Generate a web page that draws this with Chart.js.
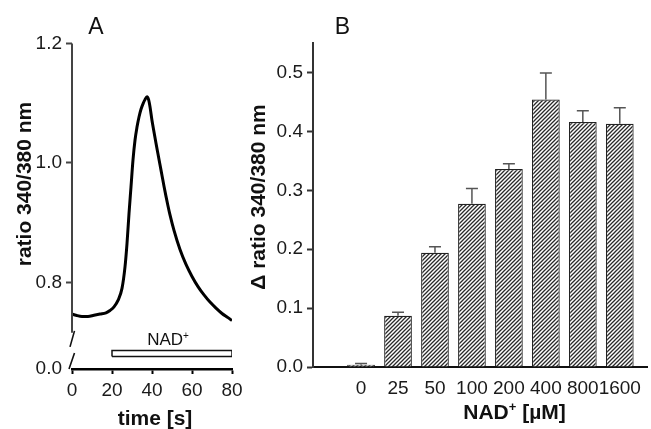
<!DOCTYPE html>
<html>
<head>
<meta charset="utf-8">
<script src="https://cdn.jsdelivr.net/npm/chart.js@4.4.1/dist/chart.umd.min.js"></script>
<style>
  html, body { margin: 0; padding: 0; background: #fff; }
  #wrap { position: relative; width: 651px; height: 429px; overflow: hidden; background: #fff; }
  canvas { position: absolute; top: 0; }
  #chartA { left: 0; }
  #chartB { left: 235px; }
</style>
</head>
<body>
<div id="wrap">
  <canvas id="chartA" width="260" height="429"></canvas>
  <canvas id="chartB" width="416" height="429"></canvas>
</div>
<script>
// panel A: ratio trace of one cell
const timeS = [0, 2, 5, 8, 11, 14, 17, 19, 21, 23, 25, 26.5, 27.5, 28.5, 29.5, 30.5, 31.5, 32.5, 33.5, 34.5, 35.5, 36.5, 37.5, 38.3, 39, 40, 41, 42, 43, 44, 45, 46, 47, 48, 49, 51, 54, 57, 60, 63, 66, 69, 72, 75, 78, 80];
const ratio = [0.747, 0.745, 0.743, 0.743, 0.745, 0.747, 0.749, 0.753, 0.759, 0.770, 0.790, 0.826, 0.865, 0.915, 0.960, 1.005, 1.038, 1.060, 1.077, 1.090, 1.099, 1.106, 1.111, 1.106, 1.094, 1.071, 1.052, 1.033, 1.015, 0.997, 0.979, 0.961, 0.944, 0.928, 0.913, 0.887, 0.855, 0.830, 0.810, 0.793, 0.779, 0.767, 0.757, 0.748, 0.741, 0.736];
const nadPeriod = [20, 80];
const nadBarLevel = [0.676, 0.686];
const ratioTicks = [0.8, 1.0, 1.2];
const timeTicks = [0, 20, 40, 60, 80];

// panel B: dose response
const nadConc = ['0', '25', '50', '100', '200', '400', '800', '1600'];
const deltaRatio = [0.004, 0.087, 0.194, 0.277, 0.336, 0.454, 0.416, 0.413];
const deltaSem = [0.002, 0.006, 0.010, 0.026, 0.009, 0.045, 0.019, 0.027];

const FONT = "'Liberation Sans', Arial, sans-serif";
Chart.defaults.font.family = FONT;
Chart.defaults.color = '#1a1a1a';

const yBottomA = 0.655;   // where the broken axis reaches "0.0"

// draws text made of parts; a part with sup:true is raised and smaller
function drawText(ctx, t) {
  ctx.save();
  ctx.fillStyle = '#111';
  ctx.textBaseline = 'alphabetic';
  ctx.textAlign = 'left';
  ctx.translate(t.x, t.y);
  if (t.rot) ctx.rotate(-Math.PI / 2);
  const parts = t.parts.map(p => {
    const size = p.sup ? Math.round(t.size * 0.6) : t.size;
    const f = (t.bold ? 'bold ' : '') + size + 'px ' + FONT;
    ctx.font = f;
    return {text: p.text, font: f, w: ctx.measureText(p.text).width, dy: p.sup ? -t.size * 0.38 : 0};
  });
  let x = -parts.reduce((s, p) => s + p.w, 0) / 2;
  parts.forEach(p => {
    ctx.font = p.font;
    ctx.fillText(p.text, x, p.dy);
    x += p.w;
  });
  ctx.restore();
}

const textsA = {
  id: 'textsA',
  afterDraw(chart) {
    const ctx = chart.ctx;
    const xs = chart.scales.x;
    drawText(ctx, {x: 96, y: 34, size: 23, parts: [{text: 'A'}]});
    drawText(ctx, {x: 31, y: 184, size: 21, bold: true, rot: true, parts: [{text: 'ratio 340/380 nm'}]});
    drawText(ctx, {x: 155, y: 425, size: 21, bold: true, parts: [{text: 'time [s]'}]});
    drawText(ctx, {x: xs.getPixelForValue(48), y: 345, size: 17, parts: [{text: 'NAD'}, {text: '+', sup: true}]});
  }
};

// y axis of panel A with the break above 0.0
const brokenAxis = {
  id: 'brokenAxis',
  afterDraw(chart) {
    const ctx = chart.ctx;
    const ys = chart.scales.y;
    const x = chart.chartArea.left;
    const top = ys.getPixelForValue(1.2);
    const end = ys.getPixelForValue(0.7155);
    const bottom = ys.getPixelForValue(yBottomA);
    ctx.save();
    ctx.strokeStyle = '#444';
    ctx.lineWidth = 2;
    ctx.beginPath();
    ctx.moveTo(x, top);
    ctx.lineTo(x, end);
    ctx.stroke();
    ctx.strokeStyle = '#111';
    ctx.lineWidth = 1.6;
    ctx.beginPath();
    ctx.moveTo(x + 2.5, end - 2);
    ctx.lineTo(x - 2, end + 14);
    ctx.moveTo(x + 2.5, bottom - 16);
    ctx.lineTo(x - 3, bottom);
    ctx.stroke();
    ctx.restore();
  }
};

new Chart(document.getElementById('chartA'), {
  type: 'line',
  data: {
    datasets: [
      {
        data: timeS.map((t, i) => ({x: t, y: ratio[i]})),
        borderColor: '#000',
        borderWidth: 3,
        pointRadius: 0,
        cubicInterpolationMode: 'monotone',
        fill: false
      },
      {
        data: [
          {x: nadPeriod[0], y: nadBarLevel[0]},
          {x: nadPeriod[1], y: nadBarLevel[0]},
          {x: nadPeriod[1], y: nadBarLevel[1]},
          {x: nadPeriod[0], y: nadBarLevel[1]},
          {x: nadPeriod[0], y: nadBarLevel[0]}
        ],
        borderColor: '#111',
        borderWidth: 1.5,
        pointRadius: 0,
        tension: 0,
        fill: false
      }
    ]
  },
  options: {
    responsive: false,
    animation: false,
    events: [],
    layout: { padding: { top: 43.5, right: 28, left: 0, bottom: 0 } },
    plugins: { legend: { display: false }, tooltip: { enabled: false } },
    scales: {
      x: {
        type: 'linear',
        min: 0,
        max: 80,
        afterBuildTicks: s => { s.ticks = timeTicks.map(v => ({value: v})); },
        afterFit: s => { s.height = 60; },
        ticks: { font: { size: 19 }, padding: 5, maxRotation: 0, autoSkip: false },
        grid: { drawOnChartArea: false, tickLength: 5, tickColor: '#000', tickWidth: 2 },
        border: { color: '#000', width: 2.5 }
      },
      y: {
        type: 'linear',
        min: yBottomA,
        max: 1.2,
        afterBuildTicks: s => { s.ticks = [yBottomA].concat(ratioTicks).map(v => ({value: v})); },
        afterFit: s => { s.width = 72; },
        ticks: {
          font: { size: 19 },
          padding: 4,
          callback: v => v === yBottomA ? '0.0' : v.toFixed(1)
        },
        grid: {
          drawOnChartArea: false,
          tickLength: 6,
          tickWidth: 2,
          tickColor: c => (c.tick && c.tick.value === yBottomA) ? 'rgba(0,0,0,0)' : '#444'
        },
        border: { display: false }
      }
    }
  },
  plugins: [brokenAxis, textsA]
});

// diagonal hatch fill for the bars
function hatchPattern() {
  const c = document.createElement('canvas');
  c.width = 4; c.height = 4;
  const g = c.getContext('2d');
  g.fillStyle = '#fff';
  g.fillRect(0, 0, 4, 4);
  g.strokeStyle = '#2a2a2a';
  g.lineWidth = 1.3;
  g.beginPath();
  g.moveTo(0, 4); g.lineTo(4, 0);
  g.moveTo(-1, 1); g.lineTo(1, -1);
  g.moveTo(3, 5); g.lineTo(5, 3);
  g.stroke();
  return document.getElementById('chartB').getContext('2d').createPattern(c, 'repeat');
}

const errorBars = {
  id: 'errorBars',
  afterDatasetsDraw(chart) {
    const ctx = chart.ctx;
    const ys = chart.scales.y;
    ctx.save();
    ctx.strokeStyle = '#555';
    ctx.lineWidth = 1.5;
    chart.getDatasetMeta(0).data.forEach((bar, i) => {
      const top = ys.getPixelForValue(deltaRatio[i] + deltaSem[i]);
      ctx.beginPath();
      ctx.moveTo(bar.x, bar.y);
      ctx.lineTo(bar.x, top);
      ctx.moveTo(bar.x - 6, top);
      ctx.lineTo(bar.x + 6, top);
      ctx.stroke();
    });
    ctx.restore();
  }
};

const textsB = {
  id: 'textsB',
  afterDraw(chart) {
    const ctx = chart.ctx;
    drawText(ctx, {x: 107.5, y: 34, size: 23, parts: [{text: 'B'}]});
    drawText(ctx, {x: 30, y: 197, size: 21, bold: true, rot: true, parts: [{text: '\u0394 ratio 340/380 nm'}]});
    drawText(ctx, {x: 279.5, y: 419, size: 21, bold: true, parts: [{text: 'NAD'}, {text: '+', sup: true}, {text: ' [\u00b5M]'}]});
  }
};

new Chart(document.getElementById('chartB'), {
  type: 'bar',
  data: {
    datasets: [{
      data: nadConc.map((c, i) => ({x: i, y: deltaRatio[i]})),
      backgroundColor: hatchPattern(),
      borderColor: '#222',
      borderWidth: 1.2,
      barPercentage: 0.75,
      categoryPercentage: 1
    }]
  },
  options: {
    responsive: false,
    animation: false,
    events: [],
    layout: { padding: { top: 43, right: 1, left: 0, bottom: 0 } },
    plugins: { legend: { display: false }, tooltip: { enabled: false } },
    scales: {
      x: {
        type: 'linear',
        offset: false,
        min: -1.3,
        max: 7.75,
        afterBuildTicks: s => { s.ticks = nadConc.map((c, i) => ({value: i})); },
        afterFit: s => { s.height = 62; },
        ticks: { font: { size: 19 }, padding: 10, maxRotation: 0, minRotation: 0, autoSkip: false, callback: v => nadConc[v] },
        grid: { offset: false, drawOnChartArea: false, drawTicks: false },
        border: { color: '#111', width: 2 }
      },
      y: {
        min: 0,
        max: 0.55,
        afterFit: s => { s.width = 78; },
        ticks: { stepSize: 0.1, includeBounds: false, font: { size: 19 }, padding: 4, callback: v => v.toFixed(1) },
        grid: { drawOnChartArea: false, tickLength: 6, tickWidth: 2, tickColor: '#333' },
        border: { color: '#333', width: 2 }
      }
    }
  },
  plugins: [errorBars, textsB]
});
</script>
</body>
</html>
